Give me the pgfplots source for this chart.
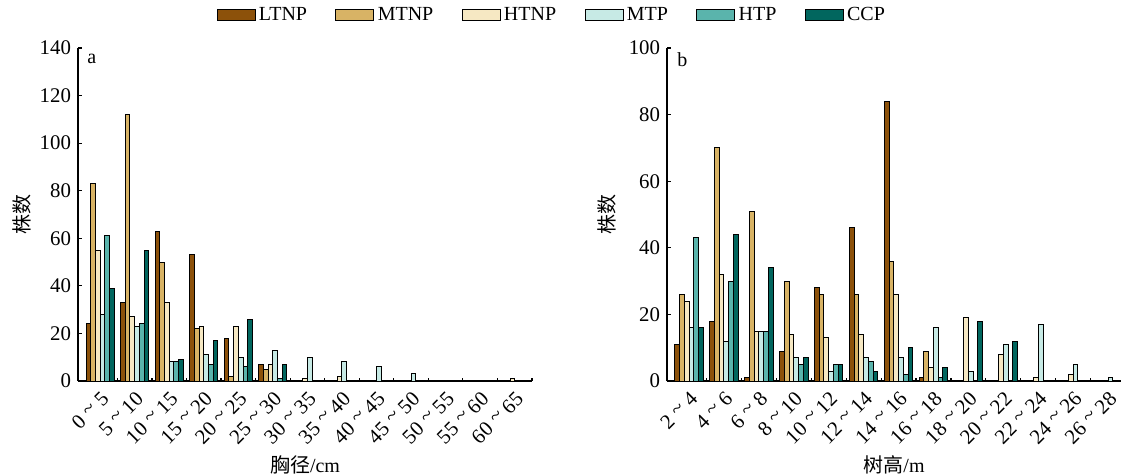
\documentclass[12pt,border=0pt]{standalone}
\usepackage{fontspec}
\setmainfont{Liberation Serif}
\newfontfamily\cjk{Noto Sans CJK SC}
\usepackage{pgfplots}
\pgfplotsset{compat=1.18}
\definecolor{cLTNP}{HTML}{8C510A}
\definecolor{cMTNP}{HTML}{D8B365}
\definecolor{cHTNP}{HTML}{F6E8C3}
\definecolor{cMTP}{HTML}{C7EAE5}
\definecolor{cHTP}{HTML}{5AB4AC}
\definecolor{cCCP}{HTML}{01665E}
\newcommand{\tl}{\hspace{0.25em}\raisebox{0.12em}{\textasciitilde}\hspace{0.25em}}
\pgfplotsset{
 myleg/.style={legend image code/.code={\draw[##1,line width=0.6pt] (0pt,-3.3pt) rectangle (22.8pt,3.3pt);}},
 sA/.style={fill=cLTNP, draw=black, line width=0.6pt, bar shift=-0.34, myleg},
 sB/.style={fill=cMTNP, draw=black, line width=0.6pt, bar shift=-0.204, myleg},
 sC/.style={fill=cHTNP, draw=black, line width=0.6pt, bar shift=-0.068, myleg},
 sD/.style={fill=cMTP, draw=black, line width=0.6pt, bar shift=0.068, myleg},
 sE/.style={fill=cHTP, draw=black, line width=0.6pt, bar shift=0.204, myleg},
 sF/.style={fill=cCCP, draw=black, line width=0.6pt, bar shift=0.34, myleg},
 common/.style={
   scale only axis, width=272.4pt, height=199.8pt,
   ybar, bar width=0.136,
   axis x line*=bottom, axis y line*=left,
   axis line style={line width=0.7pt},
   ymin=0,
   xtick={0,...,12},
   minor xtick={0.5,1.5,...,12.5},
   minor tick length=1.8pt,
   major tick length=2.6pt,
   tick align=inside,
   tick style={black, line width=0.7pt},
   major x tick style={draw=none},
   xticklabel shift=4pt,
   xticklabel style={rotate=45, anchor=north east, inner sep=1pt, font=\fontsize{12.5}{14}\selectfont},
   yticklabel style={font=\fontsize{12.5}{14}\selectfont},
   /pgf/number format/assume math mode=true,
 }
}
\begin{document}
\begin{tikzpicture}
\begin{axis}[common, at={(0,0)}, anchor=south west,
  xmin=-0.64, xmax=12.5, ymax=140, ytick={0,20,...,140},
  xticklabels={0\tl5,5\tl10,10\tl15,15\tl20,20\tl25,25\tl30,30\tl35,35\tl40,40\tl45,45\tl50,50\tl55,55\tl60,60\tl65},
  xlabel={{\cjk 胸径}/cm}, ylabel={\cjk 株数},
  xlabel style={at={(axis description cs:0.5,-0.2523)}, anchor=center},
  ylabel style={at={(axis description cs:-0.1233,0.5)}, anchor=center},
  legend columns=6,
  legend style={at={(axis description cs:1.045,1.099)}, anchor=center, draw=none, fill=none,
    /tikz/every even column/.append style={column sep=15pt}},
]
\addplot[sA] coordinates {(0,24) (1,33) (2,63) (3,53) (4,18) (5,7)};
\addplot[sB] coordinates {(0,83) (1,112) (2,50) (3,22) (4,2) (5,5)};
\addplot[sC] coordinates {(0,55) (1,27) (2,33) (3,23) (4,23) (5,7) (6,1) (7,2) (12,1)};
\addplot[sD] coordinates {(0,28) (1,23) (2,8) (3,11) (4,10) (5,13) (6,10) (7,8) (8,6) (9,3)};
\addplot[sE] coordinates {(0,61) (1,24) (2,8) (3,7) (4,6) (5,1)};
\addplot[sF] coordinates {(0,39) (1,55) (2,9) (3,17) (4,26) (5,7)};
\legend{LTNP,MTNP,HTNP,MTP,HTP,CCP}
\node[anchor=base west, inner sep=0pt, xshift=5.5pt, yshift=-9pt] at (rel axis cs:0,1) {a};
\end{axis}
\begin{axis}[common, at={(353.4pt,0)}, anchor=south west,
  xmin=-0.63, xmax=12.37, ymax=100, ytick={0,20,...,100},
  xticklabels={2\tl4,4\tl6,6\tl8,8\tl10,10\tl12,12\tl14,14\tl16,16\tl18,18\tl20,20\tl22,22\tl24,24\tl26,26\tl28},
  minor xtick={0.5,1.5,...,11.5},
  xlabel={{\cjk 树高}/m}, ylabel={\cjk 株数},
  xlabel style={at={(axis description cs:0.5,-0.2523)}, anchor=center},
  ylabel style={at={(axis description cs:-0.1327,0.5)}, anchor=center},
]
\addplot[sA] coordinates {(0,11) (1,18) (2,1) (3,9) (4,28) (5,46) (6,84) (7,1)};
\addplot[sB] coordinates {(0,26) (1,70) (2,51) (3,30) (4,26) (5,26) (6,36) (7,9)};
\addplot[sC] coordinates {(0,24) (1,32) (2,15) (3,14) (4,13) (5,14) (6,26) (7,4) (8,19) (9,8) (10,1) (11,2)};
\addplot[sD] coordinates {(0,16) (1,12) (2,15) (3,7) (4,3) (5,7) (6,7) (7,16) (8,3) (9,11) (10,17) (11,5) (12,1)};
\addplot[sE] coordinates {(0,43) (1,30) (2,15) (3,5) (4,5) (5,6) (6,2) (7,1)};
\addplot[sF] coordinates {(0,16) (1,44) (2,34) (3,7) (4,5) (5,3) (6,10) (7,4) (8,18) (9,12)};
\node[anchor=base west, inner sep=0pt, xshift=6pt, yshift=-11pt] at (rel axis cs:0,1) {b};
\end{axis}
\pgfresetboundingbox
\path[use as bounding box] (-46.8pt,-56.4pt) rectangle (626.4pt,228.6pt);
\end{tikzpicture}
\end{document}
